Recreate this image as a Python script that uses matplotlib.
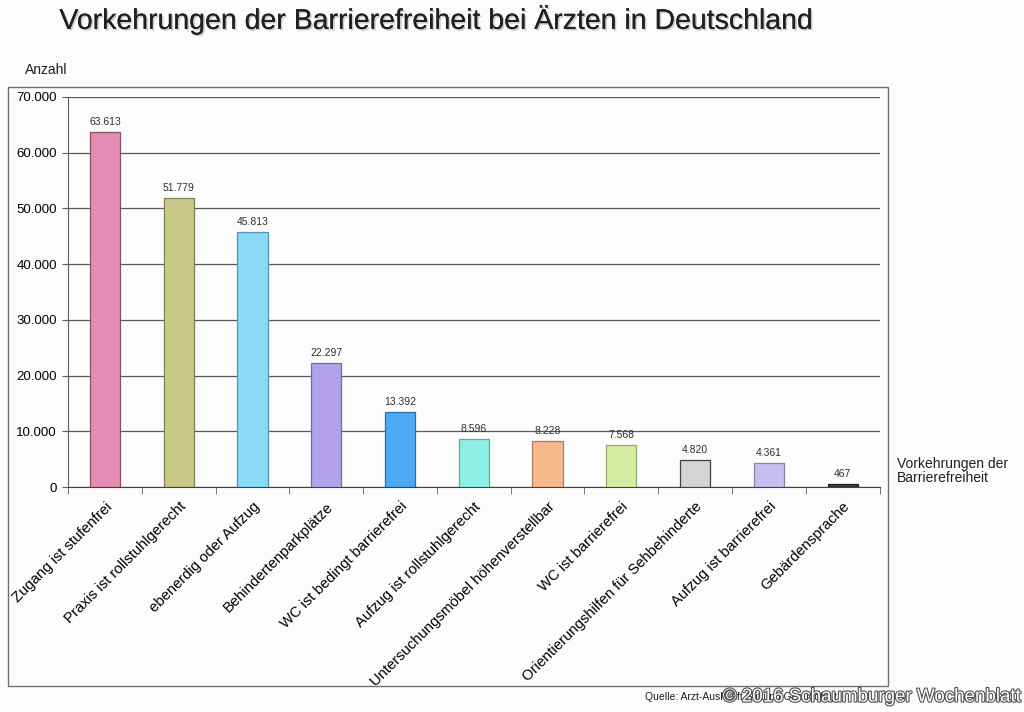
import matplotlib.pyplot as plt
import matplotlib.patheffects as pe
from matplotlib.patches import Rectangle
import numpy as np

plt.rcParams['font.family'] = ['Liberation Sans', 'DejaVu Sans']

categories = ['Zugang ist stufenfrei', 'Praxis ist rollstuhlgerecht', 'ebenerdig oder Aufzug',
              'Behindertenparkplätze', 'WC ist bedingt barrierefrei', 'Aufzug ist rollstuhlgerecht',
              'Untersuchungsmöbel höhenverstellbar', 'WC ist barrierefrei',
              'Orientierungshilfen für Sehbehinderte', 'Aufzug ist barrierefrei', 'Gebärdensprache']
values = [63613, 51779, 45813, 22297, 13392, 8596, 8228, 7568, 4820, 4361, 467]
value_labels = ['63.613', '51.779', '45.813', '22.297', '13.392', '8.596', '8.228', '7.568',
                '4.820', '4.361', '467']
colors = ['#E48CB2', '#C9C98A', '#88DAF6', '#B2A2EC', '#4BAAF2', '#8EF0E4', '#F6B98C',
          '#D4EDA2', '#D4D4D4', '#C6BEEE', '#3C3C3C']
edges = ['#8A5068', '#7E7E50', '#5A90A8', '#7868A0', '#2A6EA8', '#60A8A0', '#A8805C',
         '#94A870', '#404040', '#8880A8', '#202020']
yticks = [0, 10000, 20000, 30000, 40000, 50000, 60000, 70000]
ytick_labels = ['0', '10.000', '20.000', '30.000', '40.000', '50.000', '60.000', '70.000']

fig = plt.figure(figsize=(10.24, 7.12), dpi=100)
fig.patch.set_facecolor('#FCFCFC')

# outer chart frame
fig.patches.append(Rectangle((0.0078, 0.0365), 0.859, 0.841, transform=fig.transFigure,
                             fill=False, edgecolor='#707070', linewidth=1.0))

ax = fig.add_axes([0.0664, 0.316, 0.7926, 0.548])
ax.set_facecolor('#FCFCFC')
x = np.arange(len(categories))
ax.bar(x, values, width=0.41, color=colors, edgecolor=edges, linewidth=0.9, zorder=3)
for xi, v, lab in zip(x, values, value_labels):
    ax.text(xi, v + 900, lab, ha='center', va='bottom', fontsize=7.5, color='#303030')

ax.set_xlim(-0.5, len(categories) - 0.5)
ax.set_ylim(0, 70000)
ax.set_yticks(yticks)
ax.set_yticklabels(ytick_labels, fontsize=9.5)
ax.yaxis.grid(True, color='#5A5A5A', linewidth=0.9, zorder=0)
ax.tick_params(axis='y', length=4, color='#606060', pad=4)

ax.set_xticks(x)
ax.set_xticklabels(categories, rotation=45, ha='right', rotation_mode='anchor', fontsize=10.6)
ax.tick_params(axis='x', which='major', length=0, pad=9)
ax.set_xticks(np.arange(len(categories) + 1) - 0.5, minor=True)
ax.tick_params(axis='x', which='minor', length=5, color='#606060')

for s in ['top', 'right']:
    ax.spines[s].set_visible(False)
ax.spines['left'].set_color('#606060')
ax.spines['bottom'].set_color('#404040')

fig.text(0.058, 0.972, 'Vorkehrungen der Barrierefreiheit bei Ärzten in Deutschland',
         fontsize=20.5, va='center', ha='left', color='#202020',
         path_effects=[pe.withSimplePatchShadow(offset=(1.2, -1.2), shadow_rgbFace='#B8B8B8', alpha=0.7), pe.Normal()])
fig.text(0.024, 0.901, 'Anzahl', fontsize=10, va='center', ha='left', color='#202020')
fig.text(0.876, 0.338, 'Vorkehrungen der\nBarrierefreiheit', fontsize=10, va='center', ha='left',
         color='#202020', linespacing=1.0)
fig.text(0.630, 0.021, 'Quelle: Arzt-Auskunft Stiftung Gesundheit', fontsize=7.5,
         va='center', ha='left', color='#202020')
fig.text(0.997, 0.021, '© 2016 Schaumburger Wochenblatt', fontsize=13.5, va='center', ha='right',
         color='white', path_effects=[pe.withStroke(linewidth=1.6, foreground='#505050')])

fig.savefig('out.png', dpi=100, facecolor=fig.get_facecolor())
